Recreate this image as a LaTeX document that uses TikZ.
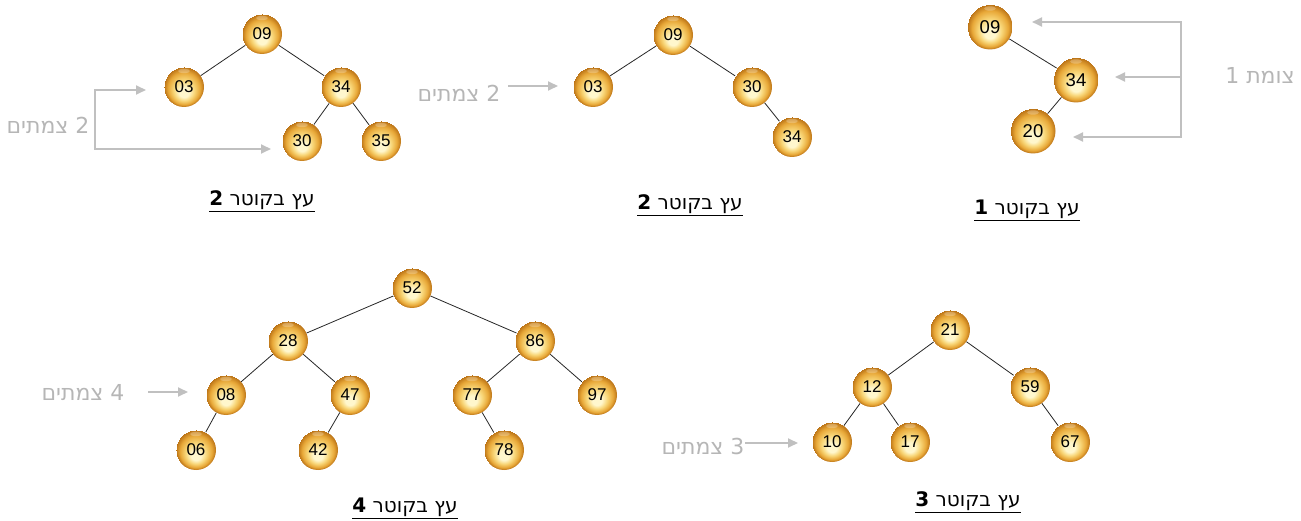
\documentclass[tikz,border=0pt]{standalone}
\usepackage{fontspec}
\setmainfont{Liberation Sans}
\newfontfamily\hebfont[Script=Hebrew]{DejaVu Sans}
\newfontfamily\numfont{Liberation Sans}
\TeXXeTstate=1
\usetikzlibrary{arrows.meta}

\definecolor{ballhi}{RGB}{255,247,205}
\definecolor{ballmid}{RGB}{248,214,120}
\definecolor{ballout}{RGB}{232,168,56}
\definecolor{balledge}{RGB}{186,114,22}
\definecolor{hintgray}{RGB}{192,192,192}
\definecolor{labelgray}{RGB}{182,182,182}

% golden sphere: light core low in the ball, darker amber rim
\pgfdeclareradialshading{goldball}{\pgfpoint{0bp}{-9bp}}{%
  color(0bp)=(ballhi); color(6bp)=(ballhi); color(13bp)=(ballmid);
  color(20bp)=(ballout); color(25bp)=(balledge)}

\tikzset{
  ball/.style={circle, minimum size=40pt, inner sep=0pt, shading=goldball,
    text=black, font=\numfont\fontsize{17}{17}\selectfont,
    path picture={\fill[white,opacity=.25]
      ([yshift=-4pt]path picture bounding box.north) ellipse (6pt and 2.2pt);}},
  bigball/.style={ball, minimum width=45pt, minimum height=42pt,
    font=\numfont\fontsize{18.5}{18.5}\selectfont},
  link/.style={draw=black!85, line width=0.8pt},
  hint/.style={draw=hintgray, line width=1.8pt,
    -{Triangle[length=10pt,width=9pt]}},
  hintlbl/.style={text=labelgray, inner sep=0pt,
    font=\hebfont\fontsize{22}{22}\selectfont},
  caption/.style={inner sep=0pt, font=\hebfont\fontsize{20}{20}\selectfont}
}

\begin{document}
\begin{tikzpicture}[x=1pt,y=-1pt]
\useasboundingbox (0,0) rectangle (1301,521);

% ---- diameter-2 tree with five nodes
\node[ball] (a09) at (262,34) {09};
\node[ball] (a03) at (184,87) {03};
\node[ball] (a34) at (341,87) {34};
\node[ball] (a30) at (302,141) {30};
\node[ball] (a35) at (381,141) {35};
\draw[link] (a09) -- (a03);
\draw[link] (a09) -- (a34);
\draw[link] (a34) -- (a30);
\draw[link] (a34) -- (a35);
\coordinate (abrT) at (95,90);
\coordinate (abrB) at (95,149);
\coordinate (atipT) at (146,90);
\coordinate (atipB) at (271,149);
\draw[hint] (abrB) -- (abrT) -- (atipT);
\draw[hint] (abrT) -- (abrB) -- (atipB);
\node[hintlbl] (alab) at (48,125) {\beginR 2 צמתים\endR};
\node[caption] (acap) at (262,201) {\underline{\beginR עץ בקוטר \textbf{2}\endR}};

% ---- diameter-2 tree with four nodes
\node[ball] (b09) at (673,35) {09};
\node[ball] (b03) at (593,87) {03};
\node[ball] (b30) at (752,87) {30};
\node[ball] (b34) at (792,137) {34};
\draw[link] (b09) -- (b03);
\draw[link] (b09) -- (b30);
\draw[link] (b30) -- (b34);
\coordinate (bfrom) at (508,86);
\coordinate (btip) at (558,86);
\draw[hint] (bfrom) -- (btip);
\node[hintlbl] (blab) at (459,93) {\beginR 2 צמתים\endR};
\node[caption] (bcap) at (690,205) {\underline{\beginR עץ בקוטר \textbf{2}\endR}};

% ---- diameter-1 tree
\node[bigball] (c09) at (990,27) {09};
\node[bigball] (c34) at (1076,80) {34};
\node[bigball] (c20) at (1033,131) {20};
\draw[link] (c09) -- (c34);
\draw[link] (c34) -- (c20);
\coordinate (cbrT) at (1181,22);
\coordinate (cbrM) at (1181,77);
\coordinate (cbrB) at (1181,137);
\coordinate (ctipT) at (1032,22);
\coordinate (ctipM) at (1115,77);
\coordinate (ctipB) at (1073,137);
\draw[hint] (cbrB) -- (cbrT) -- (ctipT);
\draw[hint] (cbrM) -- (ctipM);
\draw[hint] (cbrT) -- (cbrB) -- (ctipB);
\node[hintlbl] (clab) at (1260,76) {\beginR צומת 1\endR};
\node[caption] (ccap) at (1027,210) {\underline{\beginR עץ בקוטר \textbf{1}\endR}};

% ---- diameter-4 tree
\node[ball] (d52) at (412,288) {52};
\node[ball] (d28) at (288,341) {28};
\node[ball] (d86) at (535,341) {86};
\node[ball] (d08) at (226,395) {08};
\node[ball] (d47) at (350,395) {47};
\node[ball] (d77) at (472,395) {77};
\node[ball] (d97) at (597,395) {97};
\node[ball] (d06) at (196,450) {06};
\node[ball] (d42) at (318,450) {42};
\node[ball] (d78) at (504,450) {78};
\draw[link] (d52) -- (d28);
\draw[link] (d52) -- (d86);
\draw[link] (d28) -- (d08);
\draw[link] (d28) -- (d47);
\draw[link] (d86) -- (d77);
\draw[link] (d86) -- (d97);
\draw[link] (d08) -- (d06);
\draw[link] (d47) -- (d42);
\draw[link] (d77) -- (d78);
\coordinate (dfrom) at (148,392);
\coordinate (dtip) at (188,392);
\draw[hint] (dfrom) -- (dtip);
\node[hintlbl] (dlab) at (83,393) {\beginR 4 צמתים\endR};
\node[caption] (dcap) at (405,508) {\underline{\beginR עץ בקוטר \textbf{4}\endR}};

% ---- diameter-3 tree
\node[ball] (e21) at (950,330) {21};
\node[ball] (e12) at (872,387) {12};
\node[ball] (e59) at (1030,387) {59};
\node[ball] (e10) at (832,442) {10};
\node[ball] (e17) at (910,442) {17};
\node[ball] (e67) at (1070,442) {67};
\draw[link] (e21) -- (e12);
\draw[link] (e21) -- (e59);
\draw[link] (e12) -- (e10);
\draw[link] (e12) -- (e17);
\draw[link] (e59) -- (e67);
\coordinate (efrom) at (745,443);
\coordinate (etip) at (798,443);
\draw[hint] (efrom) -- (etip);
\node[hintlbl] (elab) at (703,446) {\beginR 3 צמתים\endR};
\node[caption] (ecap) at (968,502) {\underline{\beginR עץ בקוטר \textbf{3}\endR}};
\end{tikzpicture}
\end{document}
